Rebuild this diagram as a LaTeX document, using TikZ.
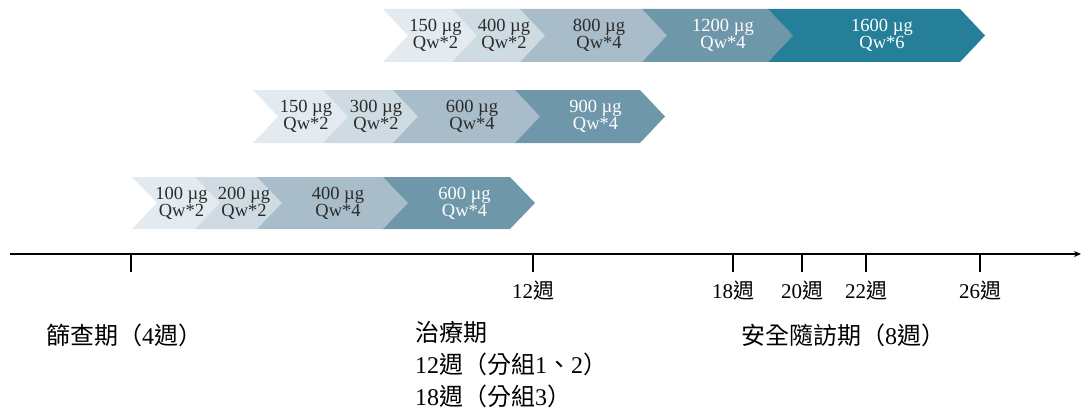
\documentclass[tikz,border=0pt]{standalone}
\usepackage{fontspec}
\setmainfont{Liberation Serif}
\newfontfamily\cjk{Noto Sans CJK TC}
\usetikzlibrary{arrows.meta}
\definecolor{cA}{HTML}{E4EBF0}
\definecolor{cB}{HTML}{CFDBE3}
\definecolor{cC}{HTML}{A8BDC9}
\definecolor{cD}{HTML}{6E97A9}
\definecolor{cE}{HTML}{257F98}
\definecolor{tdark}{HTML}{2B2B2B}
% #1 name, #2 x1, #3 x2, #4 ytop, #5 ybot, #6 fill colour, #7 text colour, #8 text
\newcommand{\chevseg}[8]{%
  \fill[#6] (#2,#4) -- (#3,#4) -- ({#3+25},{(#4+#5)/2}) -- (#3,#5) -- (#2,#5) -- ({#2+25},{(#4+#5)/2}) -- cycle;
  \node[dose,text=#7] (#1) at ({(#2+#3)/2+18},{(#4+#5)/2}) {#8};}
\begin{document}
\begin{tikzpicture}[x=1pt,y=-1pt,
  dose/.style={align=center,inner sep=0pt,font=\fontsize{18.5}{17}\selectfont},
  axisline/.style={line width=1.8pt,-{Stealth[length=7pt,width=6pt]}},
  tickline/.style={line width=1.2pt},
  ticklab/.style={font=\fontsize{21}{21}\selectfont,inner sep=0pt},
  phase/.style={font=\fontsize{24}{32}\selectfont,inner sep=0pt,anchor=west,align=left}]
\useasboundingbox (0,0) rectangle (1081,412);
% row 1
\chevseg{a1}{383}{452}{9}{62}{cA}{tdark}{150 µg\\Qw*2}
\chevseg{a2}{452}{520}{9}{62}{cB}{tdark}{400 µg\\Qw*2}
\chevseg{a3}{520}{642}{9}{62}{cC}{tdark}{800 µg\\Qw*4}
\chevseg{a4}{642}{768}{9}{62}{cD}{white}{1200 µg\\Qw*4}
\chevseg{a5}{768}{960}{9}{62}{cE}{white}{1600 µg\\Qw*6}
% row 2
\chevseg{b1}{253}{323}{90}{143}{cA}{tdark}{150 µg\\Qw*2}
\chevseg{b2}{323}{393}{90}{143}{cB}{tdark}{300 µg\\Qw*2}
\chevseg{b3}{393}{515}{90}{143}{cC}{tdark}{600 µg\\Qw*4}
\chevseg{b4}{515}{640}{90}{143}{cD}{white}{900 µg\\Qw*4}
% row 3
\chevseg{c1}{132}{195}{177}{229}{cA}{tdark}{100 µg\\Qw*2}
\chevseg{c2}{195}{257}{177}{229}{cB}{tdark}{200 µg\\Qw*2}
\chevseg{c3}{257}{383}{177}{229}{cC}{tdark}{400 µg\\Qw*4}
\chevseg{c4}{383}{510}{177}{229}{cD}{white}{600 µg\\Qw*4}
% axis
\coordinate (axL) at (10,254);
\coordinate (axR) at (1081,254);
\draw[axisline] (axL) -- (axR);
\foreach \n/\x in {t0/131,t12/533,t18/733,t20/802,t22/866,t26/980}{
  \coordinate (\n) at (\x,254);
  \coordinate (\n e) at (\x,272);
  \draw[tickline] (\n) -- (\n e);
}
\node[ticklab] (l12) at (533,291) {12{\cjk 週}};
\node[ticklab] (l18) at (733,291) {18{\cjk 週}};
\node[ticklab] (l20) at (802,291) {20{\cjk 週}};
\node[ticklab] (l22) at (866,291) {22{\cjk 週}};
\node[ticklab] (l26) at (980,291) {26{\cjk 週}};
% phases
\node[phase] (p1) at (46,335) {{\cjk 篩查期（}4{\cjk 週）}};
\node[phase,anchor=north west] (p2) at (415,321) {{\cjk 治療期}\\12{\cjk 週（分組}1{\cjk 、}2{\cjk ）}\\18{\cjk 週（分組}3{\cjk ）}};
\node[phase] (p3) at (741,335) {{\cjk 安全隨訪期（}8{\cjk 週）}};
\end{tikzpicture}
\end{document}
